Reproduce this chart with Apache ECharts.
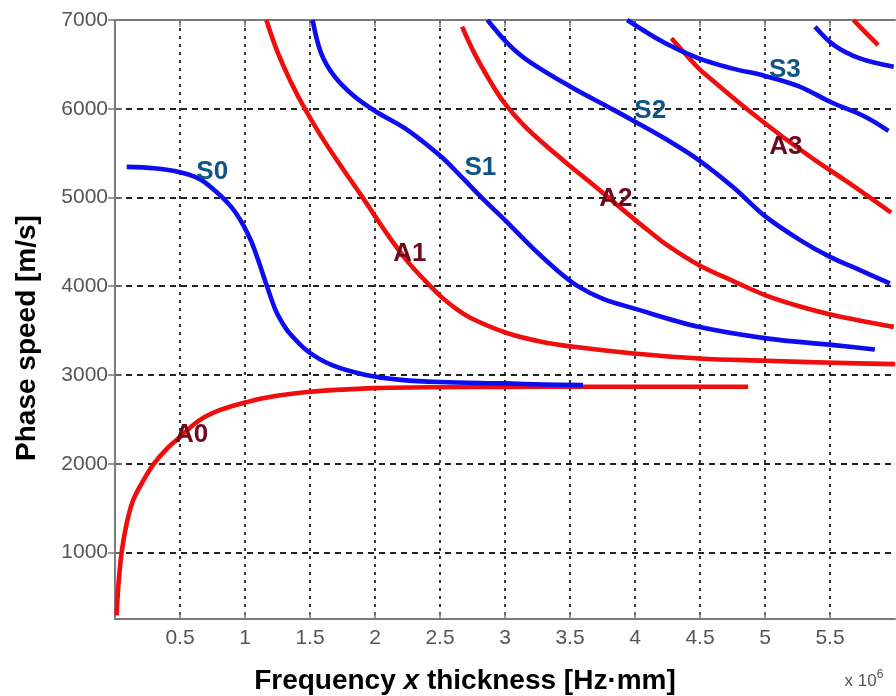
<!DOCTYPE html>
<html>
<head>
<meta charset="utf-8">
<script src="https://cdn.jsdelivr.net/npm/echarts@6/dist/echarts.min.js"></script>
<style>
  html, body { margin: 0; padding: 0; background: #ffffff; }
  #chart { width: 896px; height: 696px; }
</style>
</head>
<body>
<div id="chart"></div>
<script>
// Lamb wave dispersion curves: frequency-thickness product (x 10^6 Hz·mm) against phase speed (m/s)

const xTicks = [0.5, 1, 1.5, 2, 2.5, 3, 3.5, 4, 4.5, 5, 5.5];
const yTicks = [1000, 2000, 3000, 4000, 5000, 6000, 7000];

// antisymmetric modes, [fd, phase speed]
const modeA0 = [[0.013, 290], [0.025, 610], [0.05, 990], [0.09, 1330], [0.14, 1590], [0.22, 1815], [0.3, 2000], [0.4, 2170], [0.5, 2300], [0.64, 2480], [0.8, 2600], [1.02, 2697], [1.2, 2755], [1.5, 2810], [1.7, 2832], [2.0, 2852], [2.5, 2862], [3.0, 2866], [3.6, 2868], [4.2, 2868], [4.87, 2868]];
const modeA1 = [[1.164, 7000], [1.25, 6640], [1.35, 6310], [1.46, 6000], [1.59, 5680], [1.74, 5350], [1.9, 5010], [2.0, 4790], [2.1, 4575], [2.25, 4280], [2.38, 4070], [2.51, 3880], [2.63, 3740], [2.76, 3625], [3.02, 3470], [3.27, 3378], [3.53, 3317], [3.99, 3242], [4.49, 3186], [5.01, 3160], [5.53, 3137], [6.0, 3122]];
const modeA2 = [[2.67, 6925], [2.763, 6630], [2.89, 6300], [2.993, 6070], [3.147, 5810], [3.325, 5572], [3.505, 5350], [3.66, 5165], [3.786, 5010], [3.94, 4821], [4.1, 4630], [4.25, 4460], [4.49, 4240], [4.76, 4055], [5.01, 3895], [5.27, 3772], [5.53, 3674], [5.99, 3542]];
const modeA3 = [[4.28, 6794], [4.41, 6580], [4.5, 6440], [4.62, 6290], [4.87, 5985], [5.13, 5690], [5.385, 5422], [5.64, 5170], [5.97, 4830]];
const modeA4 = [[5.68, 7000], [5.78, 6850], [5.87, 6718]];

// symmetric modes, [fd, phase speed]
const modeS0 = [[0.09, 5345], [0.3, 5330], [0.5, 5285], [0.65, 5210], [0.77, 5075], [0.87, 4935], [0.93, 4825], [0.99, 4680], [1.05, 4500], [1.1, 4300], [1.16, 4040], [1.235, 3730], [1.29, 3580], [1.34, 3475], [1.48, 3270], [1.67, 3110], [1.93, 3000], [2.2, 2945], [2.5, 2920], [3.0, 2905], [3.3, 2893], [3.6, 2885]];
const modeS1 = [[1.52, 7000], [1.586, 6624], [1.69, 6361], [1.84, 6140], [2.0, 5975], [2.25, 5760], [2.51, 5459], [2.66, 5240], [2.84, 4971], [3.0, 4745], [3.22, 4420], [3.4, 4180], [3.55, 4010], [3.75, 3860], [3.99, 3750], [4.49, 3542], [5.01, 3412], [5.53, 3336], [5.845, 3287]];
const modeS2 = [[2.865, 7000], [3.02, 6737], [3.17, 6549], [3.505, 6248], [3.79, 6023], [3.99, 5863], [4.25, 5647], [4.49, 5422], [4.76, 5110], [5.0, 4790], [5.27, 4520], [5.5, 4331], [5.73, 4181], [5.96, 4031]];
const modeS3 = [[3.94, 7000], [4.234, 6737], [4.49, 6568], [4.745, 6455], [5.0, 6370], [5.257, 6255], [5.513, 6070], [5.77, 5910], [5.95, 5750]];
const modeS4 = [[5.385, 6925], [5.53, 6718], [5.73, 6568], [5.99, 6474]];

// mode name tags
const tagNames = ['S0', 'S1', 'S2', 'S3', 'A0', 'A1', 'A2', 'A3'];
const tagFd = [0.748, 2.81, 4.117, 5.153, 0.59, 2.268, 3.853, 5.161];
const tagVp = [5292, 5337, 5974, 6436, 2321, 4362, 4988, 5574];

const RED = '#f00d0d';
const BLUE = '#0d0df0';
const SYM_TAG = '#0e5485';
const ANTI_TAG = '#6e0a1c';
const FONT = '"Liberation Sans", Arial, sans-serif';

function curve(name, data, color) {
  return {
    name: name,
    type: 'line',
    data: data,
    xAxisIndex: 0,
    yAxisIndex: 0,
    showSymbol: false,
    smooth: 0.35,
    lineStyle: { color: color, width: 4.6, cap: 'butt', join: 'round' },
    z: 3,
    silent: true
  };
}

function tagSeries(color, names) {
  const data = [];
  tagNames.forEach(function (n, i) {
    if (names.indexOf(n) >= 0) data.push({ name: n, value: [tagFd[i], tagVp[i]] });
  });
  return {
    type: 'scatter',
    data: data,
    symbolSize: 1,
    silent: true,
    z: 5,
    itemStyle: { opacity: 0 },
    label: {
      show: true,
      position: 'inside',
      formatter: '{b}',
      color: color,
      opacity: 1,
      fontFamily: FONT,
      fontWeight: 'bold',
      fontSize: 26
    }
  };
}

const gridColor = '#222222';
const frameColor = '#7a7a7a';
const plain = function (v) { return String(v); };

const chart = echarts.init(document.getElementById('chart'), null, { renderer: 'canvas' });

chart.setOption({
  backgroundColor: '#ffffff',
  animation: false,
  grid: { left: 115, top: 20, right: 1, bottom: 77, containLabel: false },
  xAxis: [
    {
      type: 'value', min: 0, max: 6, position: 'bottom',
      axisLine: { show: true, lineStyle: { color: frameColor, width: 2 } },
      axisTick: { show: true, inside: true, length: 7, customValues: xTicks, lineStyle: { color: frameColor, width: 1.5 } },
      axisLabel: { show: true, customValues: xTicks, formatter: plain, margin: 9, color: '#555555', fontFamily: FONT, fontSize: 21 },
      splitLine: { show: true, lineStyle: { color: gridColor, width: 1.8, type: [3, 5] } }
    },
    {
      type: 'value', min: 0, max: 6, position: 'top',
      axisLine: { show: true, lineStyle: { color: frameColor, width: 2 } },
      axisTick: { show: true, inside: true, length: 7, customValues: xTicks, lineStyle: { color: frameColor, width: 1.5 } },
      axisLabel: { show: false },
      splitLine: { show: false }
    }
  ],
  yAxis: [
    {
      type: 'value', min: 250, max: 7000, position: 'left',
      axisLine: { show: true, lineStyle: { color: frameColor, width: 2 } },
      axisTick: { show: true, inside: true, length: 7, customValues: yTicks, lineStyle: { color: frameColor, width: 1.5 } },
      axisLabel: { show: true, customValues: yTicks, formatter: plain, margin: 7, color: '#555555', fontFamily: FONT, fontSize: 21 },
      splitLine: { show: true, lineStyle: { color: gridColor, width: 1.8, type: [6, 5] } }
    },
    {
      type: 'value', min: 250, max: 7000, position: 'right',
      axisLine: { show: true, lineStyle: { color: frameColor, width: 2 } },
      axisTick: { show: true, inside: true, length: 7, customValues: yTicks, lineStyle: { color: frameColor, width: 1.5 } },
      axisLabel: { show: false },
      splitLine: { show: false }
    }
  ],
  graphic: [
    {
      type: 'text', x: 27, y: 338, rotation: Math.PI / 2,
      style: {
        text: 'Phase speed [m/s]', fill: '#000000',
        font: 'bold 28px ' + FONT, textAlign: 'center', textVerticalAlign: 'middle'
      }
    },
    {
      type: 'text', x: 465, y: 681,
      style: {
        text: '{b|Frequency }{i|x}{b| thickness [Hz\u00b7mm]}',
        textAlign: 'center', textVerticalAlign: 'middle',
        rich: {
          b: { fontFamily: FONT, fontWeight: 'bold', fontSize: 28, fill: '#000000' },
          i: { fontFamily: FONT, fontWeight: 'bold', fontStyle: 'italic', fontSize: 28, fill: '#000000' }
        }
      }
    },
    {
      type: 'text', x: 864, y: 681,
      style: {
        text: '{n|x 10}{e|6}',
        textAlign: 'center', textVerticalAlign: 'middle',
        rich: {
          n: { fontFamily: FONT, fontSize: 17, fill: '#555555' },
          e: { fontFamily: FONT, fontSize: 12, fill: '#555555', verticalAlign: 'top', padding: [0, 0, 12, 0] }
        }
      }
    }
  ],
  series: [
    curve('A0', modeA0, RED),
    curve('A1', modeA1, RED),
    curve('A2', modeA2, RED),
    curve('A3', modeA3, RED),
    curve('A4', modeA4, RED),
    curve('S0', modeS0, BLUE),
    curve('S1', modeS1, BLUE),
    curve('S2', modeS2, BLUE),
    curve('S3', modeS3, BLUE),
    curve('S4', modeS4, BLUE),
    tagSeries(SYM_TAG, ['S0', 'S1', 'S2', 'S3']),
    tagSeries(ANTI_TAG, ['A0', 'A1', 'A2', 'A3'])
  ]
});
</script>
</body>
</html>
